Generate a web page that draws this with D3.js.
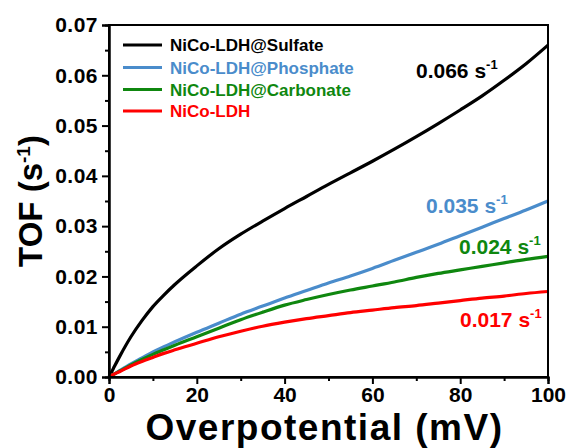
<!DOCTYPE html>
<html>
<head>
<meta charset="utf-8">
<script src="https://cdn.jsdelivr.net/npm/d3@7/dist/d3.min.js"></script>
<style>
  html, body { margin: 0; padding: 0; background: #fff; }
  svg { display: block; font-family: "Liberation Sans", Arial, sans-serif; font-weight: bold; }
</style>
</head>
<body>
<svg id="chart" width="568" height="448"></svg>
<script>
// Overpotential (mV) sampling points shared by all series
const overpotential = [0, 1, 2.5, 5, 7.5, 10, 12.5, 15, 20, 25, 30, 35, 40, 45, 50, 55, 60, 65, 70, 75, 80, 85, 90, 95, 100];

// TOF (s^-1) for each catalyst
const tofSulfate = [0, 0.0017, 0.0042, 0.0080, 0.0112, 0.0140, 0.0163, 0.0184, 0.0221, 0.0255, 0.0284, 0.0310, 0.0335, 0.0359, 0.0383, 0.0406, 0.0429, 0.0453, 0.0478, 0.0504, 0.0531, 0.0559, 0.0590, 0.0623, 0.066];
const tofPhosphate = [0, 0.0005, 0.0013, 0.0026, 0.0038, 0.0050, 0.0060, 0.0070, 0.0089, 0.0107, 0.0125, 0.0141, 0.0157, 0.0172, 0.0187, 0.0201, 0.0216, 0.0232, 0.0248, 0.0264, 0.0281, 0.0298, 0.0315, 0.0332, 0.035];
const tofCarbonate = [0, 0.0005, 0.0012, 0.0024, 0.0035, 0.0045, 0.0054, 0.0063, 0.0080, 0.0097, 0.0114, 0.0129, 0.0143, 0.0154, 0.0164, 0.0173, 0.0181, 0.0189, 0.0198, 0.0206, 0.0213, 0.0220, 0.0227, 0.0234, 0.024];
const tofBare = [0, 0.0005, 0.0011, 0.0022, 0.0031, 0.0039, 0.0047, 0.0054, 0.0067, 0.0080, 0.0091, 0.0101, 0.0109, 0.0116, 0.0122, 0.0128, 0.0133, 0.0138, 0.0142, 0.0147, 0.0152, 0.0157, 0.0161, 0.0166, 0.017];

const seriesNames = ["NiCo-LDH@Sulfate", "NiCo-LDH@Phosphate", "NiCo-LDH@Carbonate", "NiCo-LDH"];
const seriesValues = [tofSulfate, tofPhosphate, tofCarbonate, tofBare];
const seriesColors = ["#000000", "#4a8ccb", "#0f870f", "#ff0000"];
// End-point annotations
const endLabels = ["0.066", "0.035", "0.024", "0.017"];

const xTicks = [0, 20, 40, 60, 80, 100];
const xMinor = [10, 30, 50, 70, 90];
const yTicks = [0, 0.01, 0.02, 0.03, 0.04, 0.05, 0.06, 0.07];
const yMinor = [0.005, 0.015, 0.025, 0.035, 0.045, 0.055, 0.065];

const svg = d3.select("#chart");
const plotLeft = 109, plotRight = 548, plotTop = 25, plotBottom = 377;

const x = d3.scaleLinear().domain([0, 100]).range([plotLeft, plotRight]);
const y = d3.scaleLinear().domain([0, 0.07]).range([plotBottom, plotTop]);

// Curves (sulfate first so the others sit on top near the origin)
const line = d3.line()
  .x(d => x(d[0]))
  .y(d => y(d[1]))
  .curve(d3.curveMonotoneX);

seriesValues.forEach((vals, i) => {
  svg.append("path")
    .datum(overpotential.map((v, j) => [v, vals[j]]))
    .attr("fill", "none")
    .attr("stroke", seriesColors[i])
    .attr("stroke-width", 3.2)
    .attr("stroke-linejoin", "round")
    .attr("d", line);
});

// Frame
svg.append("rect")
  .attr("x", plotLeft).attr("y", plotTop)
  .attr("width", plotRight - plotLeft).attr("height", plotBottom - plotTop)
  .attr("fill", "none").attr("stroke", "#000").attr("stroke-width", 2);

// Bottom axis
svg.append("g").attr("transform", `translate(0,${plotBottom})`)
  .call(d3.axisBottom(x).tickValues(xTicks).tickSize(7).tickPadding(3).tickFormat(d3.format("d")));
svg.append("g").attr("transform", `translate(0,${plotBottom})`)
  .call(d3.axisBottom(x).tickValues(xMinor).tickSize(4).tickFormat(""));

// Left axis
const yAxis = svg.append("g").attr("transform", `translate(${plotLeft},0)`)
  .call(d3.axisLeft(y).tickValues(yTicks).tickSize(7).tickPadding(4).tickFormat(d3.format(".2f")));
svg.append("g").attr("transform", `translate(${plotLeft},0)`)
  .call(d3.axisLeft(y).tickValues(yMinor).tickSize(4).tickFormat(""));

svg.selectAll(".domain").attr("stroke", "#000").attr("stroke-width", 2);
svg.selectAll(".tick line").attr("stroke", "#000").attr("stroke-width", 2);
svg.selectAll(".tick text")
  .attr("fill", "#000")
  .attr("font-family", "'Liberation Sans', Arial, sans-serif")
  .attr("font-weight", "bold")
  .attr("font-size", 21);
yAxis.selectAll(".tick text").attr("letter-spacing", 0.5);

// Axis titles
svg.append("text")
  .attr("x", (plotLeft + plotRight) / 2 - 4)
  .attr("y", 440)
  .attr("text-anchor", "middle")
  .attr("font-size", 37)
  .attr("letter-spacing", 1.5)
  .text("Overpotential (mV)");

const yTitle = svg.append("text")
  .attr("transform", "translate(42,201) rotate(-90)")
  .attr("text-anchor", "middle")
  .attr("font-size", 33);
yTitle.append("tspan").text("TOF (s");
yTitle.append("tspan").attr("font-size", 19).attr("dy", -12).text("-1");
yTitle.append("tspan").attr("dy", 12).text(")");

// Legend
const legendY = [45, 67.5, 89.5, 111];
seriesNames.forEach((name, i) => {
  svg.append("line")
    .attr("x1", 123).attr("x2", 162)
    .attr("y1", legendY[i]).attr("y2", legendY[i])
    .attr("stroke", seriesColors[i]).attr("stroke-width", 3.2);
  svg.append("text")
    .attr("x", 170).attr("y", legendY[i] + 6)
    .attr("font-size", 17)
    .attr("fill", seriesColors[i])
    .text(name);
});

// End-point value labels
const labelPos = [[416, 78], [426, 213], [459, 254], [460, 327]];
endLabels.forEach((t, i) => {
  const txt = svg.append("text")
    .attr("x", labelPos[i][0]).attr("y", labelPos[i][1])
    .attr("font-size", 21)
    .attr("fill", seriesColors[i]);
  txt.append("tspan").text(t + " s");
  txt.append("tspan").attr("font-size", 13).attr("dy", -9).text("-1");
});
</script>
</body>
</html>
